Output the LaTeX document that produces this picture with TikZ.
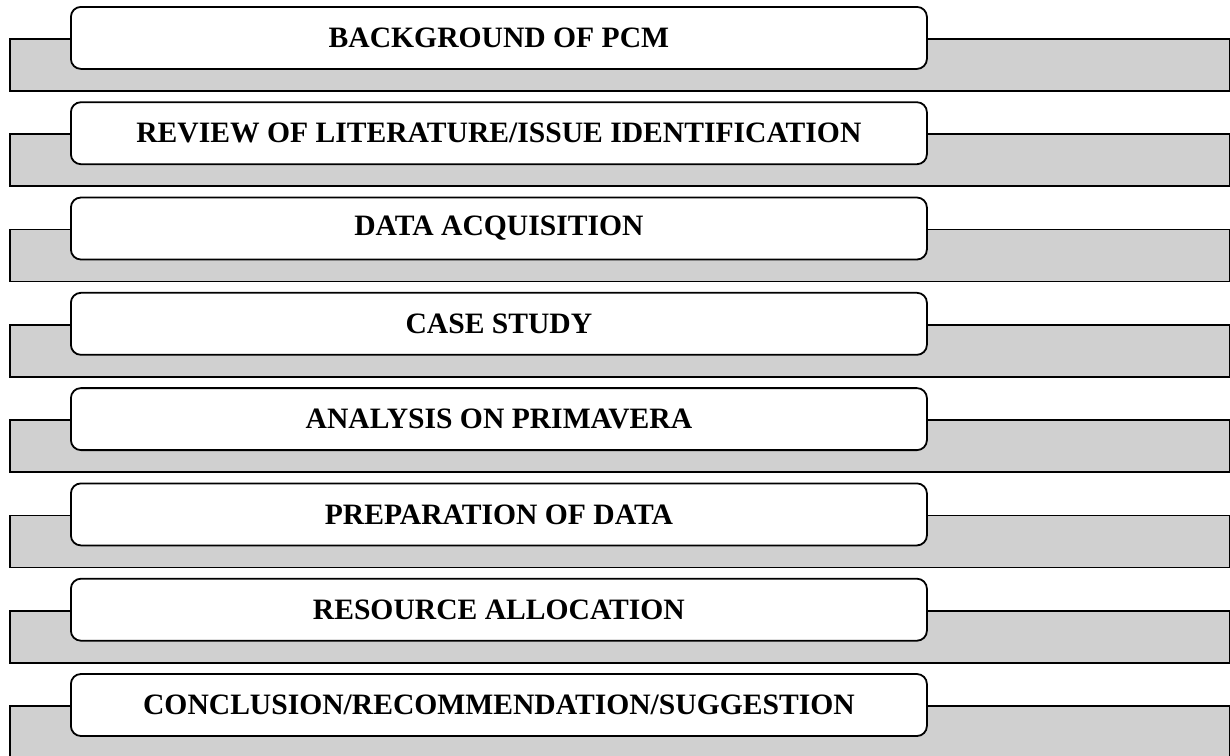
\documentclass[tikz,border=0pt]{standalone}
\usepackage{fontspec}
\setmainfont{Liberation Serif}
\begin{document}
\begin{tikzpicture}[x=1pt,y=-1pt,
  band/.style={draw=black, line width=1.8pt, fill=bandgray, rectangle, inner sep=0pt, anchor=north west},
  stepbox/.style={draw=black, line width=1.8pt, fill=white, rounded corners=10pt, rectangle,
    minimum width=856pt, minimum height=62pt, inner sep=0pt, anchor=north west,
    font=\fontsize{29.6}{34}\selectfont\bfseries}]
\definecolor{bandgray}{HTML}{D0D0D0}
\useasboundingbox (0,0) rectangle (1230,755);
\foreach \t [count=\i from 0] in {BACKGROUND OF PCM,REVIEW OF LITERATURE/ISSUE IDENTIFICATION,DATA ACQUISITION,CASE STUDY,ANALYSIS ON PRIMAVERA,PREPARATION OF DATA,RESOURCE ALLOCATION,CONCLUSION/RECOMMENDATION/SUGGESTION}{
  \pgfmathsetmacro{\ytop}{6+95.3*\i}
  \node[band, minimum width=1220pt, minimum height=52pt] (band\i) at (9,\ytop+32) {};
  \node[stepbox] (box\i) at (70,\ytop) {\t};
}
\end{tikzpicture}
\end{document}
